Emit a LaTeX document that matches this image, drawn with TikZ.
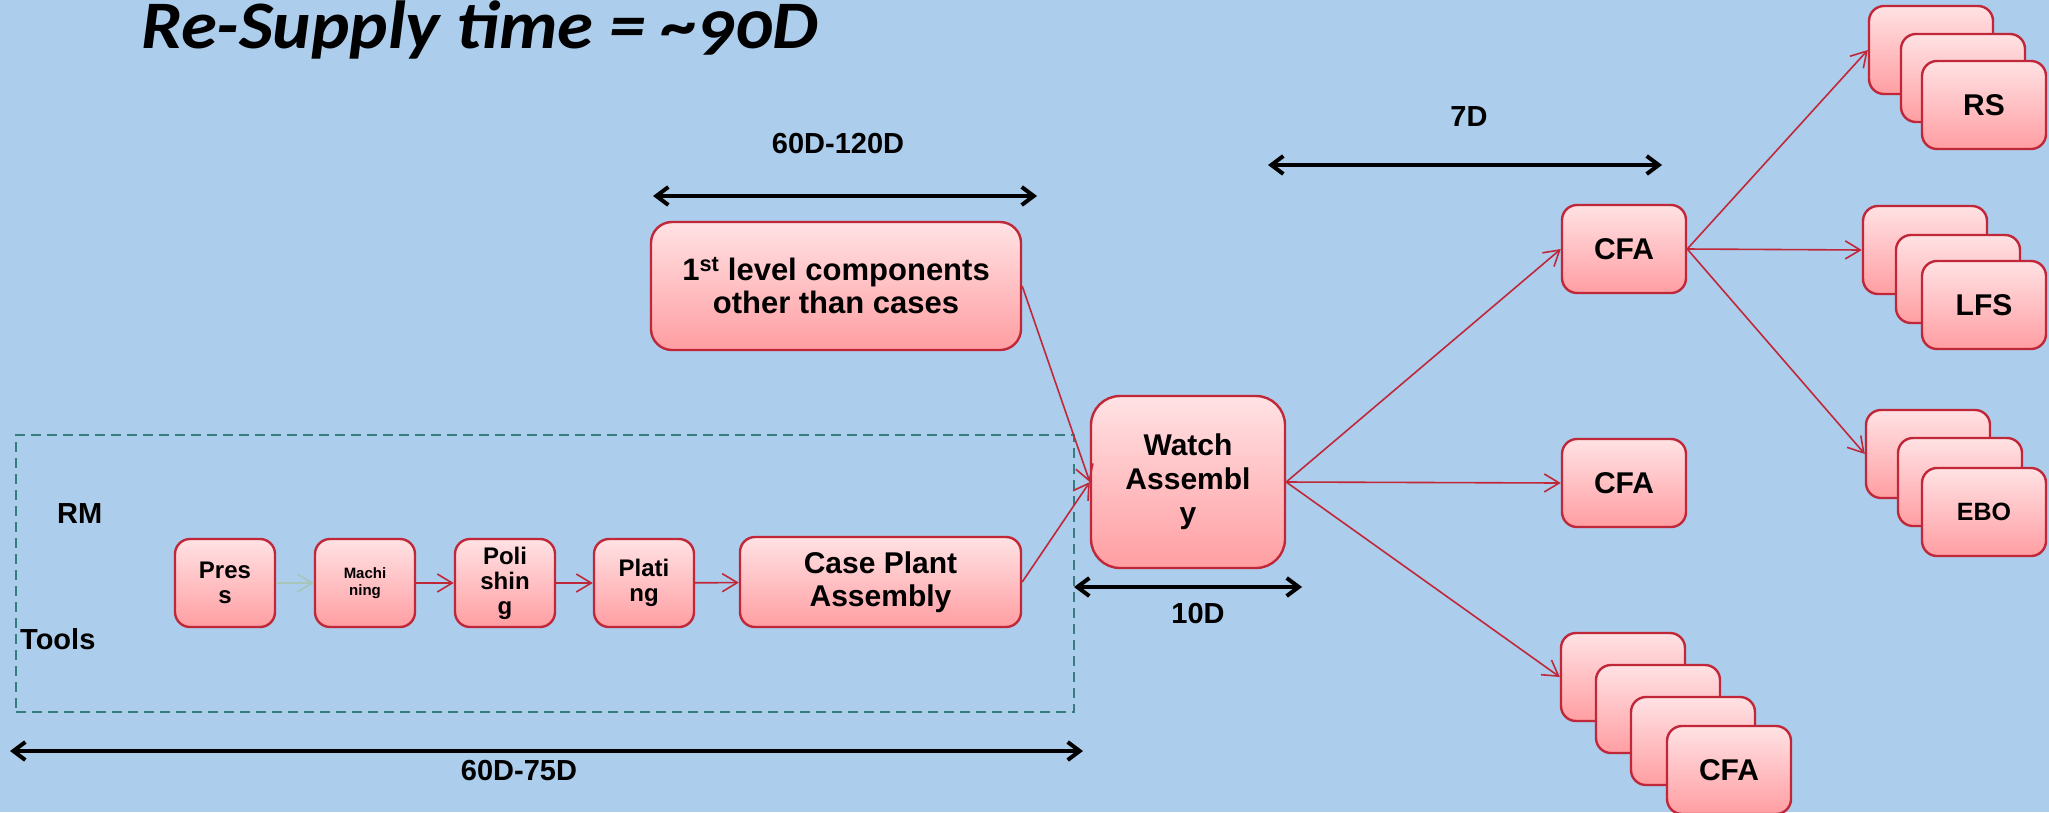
\documentclass[tikz,border=0pt]{standalone}
\usepackage{fontspec}
\setmainfont{Liberation Sans}
\newfontfamily\titlefont[Numbers=OldStyle]{Carlito}
\usetikzlibrary{arrows.meta}
\definecolor{bgblue}{RGB}{172,205,235}
\definecolor{boxred}{RGB}{192,40,58}
\definecolor{pinktop}{RGB}{255,226,228}
\definecolor{pinkbot}{RGB}{255,158,162}
\definecolor{dashteal}{RGB}{55,125,128}
\definecolor{fadedarrow}{RGB}{165,198,184}
\newcommand\myfs[2]{\fontsize{#1}{#2}\selectfont}
\tikzset{
  box/.style={draw=boxred, line width=2.4pt, top color=pinktop, bottom color=pinkbot,
    rounded corners=15pt, inner sep=0pt, align=center, text=black},
  sbox/.style={box, minimum width=124pt, minimum height=88pt, font=\bfseries\myfs{30}{34}},
  pbox/.style={box, minimum width=100pt, minimum height=88pt, font=\bfseries\myfs{24}{25}},
  conn/.style={draw=boxred, line width=1.6pt, -{Straight Barb[length=15pt,width=18pt]}},
  fconn/.style={conn, draw=fadedarrow},
  dimarrow/.style={draw=black, line width=4pt, {Straight Barb[length=12pt,width=18pt]}-{Straight Barb[length=12pt,width=18pt]}},
  lbl/.style={font=\bfseries\myfs{29}{32}, text=black, inner sep=0pt},
  dashbox/.style={draw=dashteal, line width=2pt, dash pattern=on 10pt off 6pt, inner sep=0pt}
}
\begin{document}
\begin{tikzpicture}[x=1pt,y=-1pt]
\useasboundingbox (0,0) rectangle (2049,812);
\clip (0,0) rectangle (2049,812);
\fill[bgblue] (0,0) rectangle (2049,812);

% title
\node[anchor=base west, inner sep=0pt, xscale=1.07, font=\titlefont\bfseries\itshape\myfs{68}{74}] (title) at (141,48) {Re-Supply time = \textasciitilde90D};

% dashed frame
\node[dashbox, minimum width=1058pt, minimum height=277pt] (frame) at (545,573.5) {};
\node[lbl, anchor=west] (rm) at (57,514) {RM};
\node[lbl, anchor=west] (tools) at (20,639) {Tools};

% process chain
\node[pbox] (press) at (225,583) {Pres\\s};
\node[pbox, font=\bfseries\myfs{15}{17}] (mach) at (365,583) {Machi\\ning};
\node[pbox] (pol) at (505,583) {Poli\\shin\\g};
\node[pbox] (plat) at (644,583) {Plati\\ng};
\node[box, minimum width=281pt, minimum height=90pt, font=\bfseries\myfs{30}{33}] (case) at (880.5,582) {Case Plant\\Assembly};

\node[box, rounded corners=21pt, minimum width=370pt, minimum height=128pt, font=\bfseries\myfs{31}{33}] (first) at (836,286) {1\textsuperscript{st} level components\\other than cases};
\node[box, rounded corners=29pt, minimum width=194pt, minimum height=172pt, font=\bfseries\myfs{30}{34}] (watch) at (1188,482) {Watch\\Assembl\\y};

% CFA level
\node[sbox] (cfa1) at (1624,249) {CFA};
\node[sbox] (cfa2) at (1624,483) {CFA};
\node[sbox] (b1) at (1623,677) {};
\node[sbox] (b2) at (1658,709) {};
\node[sbox] (b3) at (1693,741) {};
\node[sbox] (b4) at (1729,770) {CFA};

% RS / LFS / EBO stacks
\node[sbox] (r1) at (1931,50) {};
\node[sbox] (r2) at (1963,78) {};
\node[sbox] (r3) at (1984,105) {RS};
\node[sbox] (l1) at (1925,250) {};
\node[sbox] (l2) at (1958,279) {};
\node[sbox] (l3) at (1984,305) {LFS};
\node[sbox] (e1) at (1928,454) {};
\node[sbox] (e2) at (1960,482) {};
\node[sbox, font=\bfseries\myfs{25}{28}] (e3) at (1984,512) {EBO};

% connectors
\draw[fconn] (press) -- (mach);
\draw[conn] (mach) -- (pol);
\draw[conn] (pol) -- (plat);
\draw[conn] (plat) -- (case);
\draw[conn] (first.east) -- (watch.west);
\draw[conn] (case.east) -- (watch.west);
\draw[conn] (watch.east) -- (cfa1.west);
\draw[conn] (watch.east) -- (cfa2.west);
\draw[conn] (watch.east) -- (b1.west);
\draw[conn] (cfa1.east) -- (r1.west);
\draw[conn] (cfa1.east) -- (l1.west);
\draw[conn] (cfa1.east) -- (e1.west);

% dimension arrows
\coordinate (d1l) at (653,196); \coordinate (d1r) at (1037,196);
\draw[dimarrow] (d1l) -- (d1r);
\node[lbl, anchor=base] (d1t) at (838,153) {60D-120D};
\coordinate (d2l) at (1268,165); \coordinate (d2r) at (1662,165);
\draw[dimarrow] (d2l) -- (d2r);
\node[lbl, anchor=base] (d2t) at (1469,126) {7D};
\coordinate (d3l) at (1074,587); \coordinate (d3r) at (1302,587);
\draw[dimarrow] (d3l) -- (d3r);
\node[lbl, anchor=base] (d3t) at (1198,623) {10D};
\coordinate (d4l) at (10,751); \coordinate (d4r) at (1083,751);
\draw[dimarrow] (d4l) -- (d4r);
\node[lbl, anchor=base] (d4t) at (519,780) {60D-75D};
\end{tikzpicture}
\end{document}
